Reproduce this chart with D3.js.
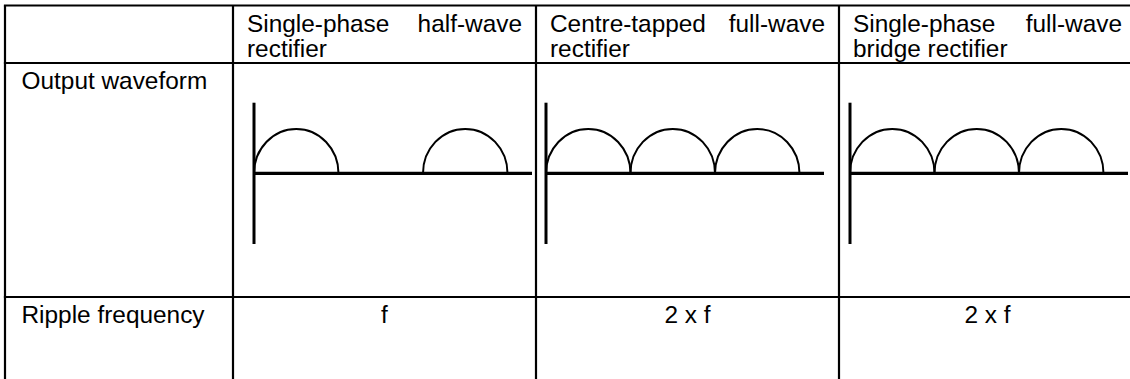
<!DOCTYPE html>
<html>
<head>
<meta charset="utf-8">
<script src="https://cdn.jsdelivr.net/npm/d3@7"></script>
<style>
  html, body { margin: 0; padding: 0; background: #fff; }
  svg { display: block; }
</style>
</head>
<body>
<svg id="chart" width="1130" height="379"></svg>
<script>
// ---- data ----
const columnHeaders = ["", "Single-phase half-wave rectifier", "Centre-tapped full-wave rectifier", "Single-phase full-wave bridge rectifier"];
const rowLabels = ["Output waveform", "Ripple frequency"];
const rippleFrequency = ["f", "2 x f", "2 x f"];
// humps as [start, end] in half-periods of the supply
const halfWaveHumps = [[0, 1], [2, 3]];
const centreTappedHumps = [[0, 1], [1, 2], [2, 3]];
const bridgeHumps = [[0, 1], [1, 2], [2, 3]];
const waveforms = [halfWaveHumps, centreTappedHumps, bridgeHumps];
const timeDomain = [0, 3.29];     // half-periods shown on time axis
const ampDomain = [-1.59, 1.59];  // amplitude shown on vertical axis (peak = 1)
const peak = 1;

// ---- layout ----
const colX = [5, 233, 536, 839, 1136];
const rowY = [5.5, 63, 297, 420];
const padL = 14, padR = 14;
const fontSize = 24.4;
const font = "'Liberation Sans', Arial, sans-serif";
const axisOffset = [21, 10, 11];
const axisLen = 278;
const vTop = 102.7, vBottom = 244;

const svg = d3.select("#chart");
svg.append("rect").attr("width", 1130).attr("height", 379).attr("fill", "#fff");

const grid = svg.append("g").attr("stroke", "#000").attr("stroke-width", 2.2);
rowY.slice(0, 3).forEach(yv => {
  grid.append("line").attr("x1", colX[0] - 1.1).attr("x2", colX[4]).attr("y1", yv).attr("y2", yv);
});
colX.slice(0, 4).forEach(xv => {
  grid.append("line").attr("x1", xv).attr("x2", xv).attr("y1", rowY[0]).attr("y2", rowY[3]);
});

const textG = svg.append("g").attr("font-family", font).attr("font-size", fontSize).attr("fill", "#000");

// header wrap with justification (Word-like)
function wrapJustified(str, x0, x1, baseline, lineH) {
  const words = str.split(" ");
  const measure = s => {
    const t = textG.append("text").text(s);
    const w = t.node().getComputedTextLength();
    t.remove();
    return w;
  };
  const spaceW = measure("a a") - measure("aa");
  const avail = x1 - x0;
  const lines = [];
  let cur = [];
  words.forEach(w => {
    const test = cur.concat([w]);
    const width = test.map(measure).reduce((a, b) => a + b, 0) + spaceW * (test.length - 1);
    if (width > avail && cur.length) { lines.push(cur); cur = [w]; } else { cur = test; }
  });
  if (cur.length) lines.push(cur);
  lines.forEach((ws, li) => {
    const yb = baseline + li * lineH;
    const last = li === lines.length - 1;
    if (last || ws.length === 1) {
      textG.append("text").attr("x", x0).attr("y", yb).text(ws.join(" "));
    } else {
      const widths = ws.map(measure);
      const total = widths.reduce((a, b) => a + b, 0);
      const gap = (avail - total) / (ws.length - 1);
      let xx = x0;
      ws.forEach((w, i) => {
        textG.append("text").attr("x", xx).attr("y", yb).text(w);
        xx += widths[i] + gap;
      });
    }
  });
}

columnHeaders.forEach((h, i) => {
  if (!h) return;
  wrapJustified(h, colX[i] + padL, colX[i + 1] - padR, 32, 24.7);
});

rowLabels.forEach((r, i) => {
  textG.append("text").attr("x", colX[0] + 16.5).attr("y", rowY[i + 1] + 26).text(r);
});

rippleFrequency.forEach((v, i) => {
  textG.append("text")
    .attr("x", (colX[i + 1] + colX[i + 2]) / 2)
    .attr("y", rowY[2] + 26)
    .attr("text-anchor", "middle")
    .text(v);
});

// waveforms
waveforms.forEach((humps, i) => {
  const ox = colX[i + 1] + axisOffset[i];
  const x = d3.scaleLinear().domain(timeDomain).range([ox, ox + axisLen]);
  const y = d3.scaleLinear().domain(ampDomain).range([vBottom, vTop]);
  const g = svg.append("g").attr("stroke", "#000").attr("fill", "none");
  g.append("line")
    .attr("x1", x(0)).attr("x2", x(0))
    .attr("y1", y(ampDomain[0])).attr("y2", y(ampDomain[1]))
    .attr("stroke-width", 3);
  g.append("line")
    .attr("x1", x(0)).attr("x2", x(timeDomain[1]))
    .attr("y1", y(0)).attr("y2", y(0))
    .attr("stroke-width", 3.2);
  g.selectAll("path.hump").data(humps).join("path")
    .attr("class", "hump")
    .attr("stroke-width", 2)
    .attr("d", d => {
      const xa = x(d[0]), xb = x(d[1]);
      const rx = (xb - xa) / 2, ry = y(0) - y(peak);
      return `M${xa},${y(0)} A${rx},${ry} 0 0 1 ${xb},${y(0)}`;
    });
});
</script>
</body>
</html>
